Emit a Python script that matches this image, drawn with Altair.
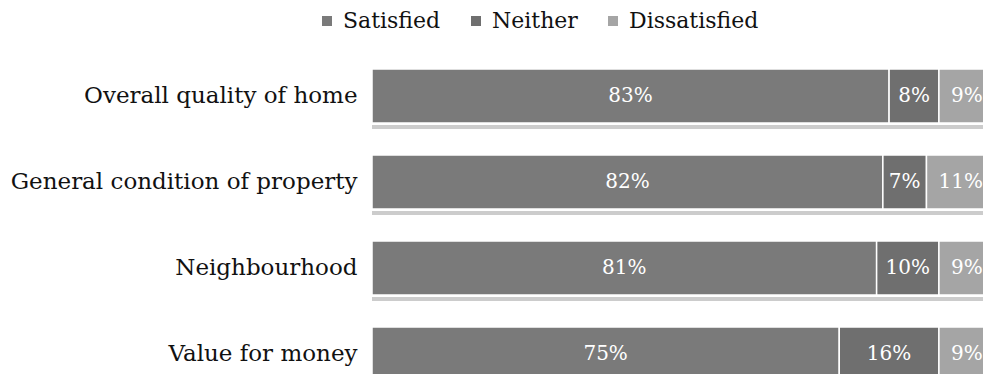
import altair as alt
import pandas as pd

categories = ["Overall quality of home", "General condition of property", "Neighbourhood", "Value for money"]
series = ["Satisfied", "Neither", "Dissatisfied"]
satisfied = [83, 82, 81, 75]
neither = [8, 7, 10, 16]
dissatisfied = [9, 11, 9, 9]
colors = ["#7a7a7a", "#6f6f6f", "#a5a5a5"]

rows = []
for i, c in enumerate(categories):
    start = 0
    for k, (s, vals) in enumerate(zip(series, [satisfied, neither, dissatisfied])):
        v = vals[i]
        rows.append({"cat": c, "series": s, "order": k, "value": v,
                     "start": start, "end": start + v, "mid": start + v / 2,
                     "label": f"{v}%"})
        start += v
df = pd.DataFrame(rows)

FONT = "DejaVu Serif"

y_scale = alt.Scale(domain=categories, range=[0, 344], paddingInner=0.372, paddingOuter=0.186)
y_enc = alt.Y("cat:N", sort=categories, title=None, scale=y_scale,
              axis=alt.Axis(domain=False, ticks=False, labelFontSize=23, labelFont=FONT,
                            labelColor="#111111", labelPadding=15, labelLimit=400))
x_scale = alt.Scale(domain=[0, 100], range=[0, 623], nice=False)

shadow = alt.Chart(df).transform_filter(alt.datum.order == 0).mark_rule(
    color="#cccccc", strokeWidth=4, yOffset=4, clip=True).encode(
    y=alt.Y("cat:N", sort=categories, scale=y_scale, bandPosition=1),
    x=alt.X("start:Q", scale=x_scale, axis=None),
    x2=alt.value(640),
)

bars = alt.Chart(df).mark_bar(stroke="white", strokeWidth=1.5, clip=True).encode(
    y=y_enc,
    x=alt.X("start:Q", scale=x_scale, axis=None),
    x2="end:Q",
    color=alt.Color("series:N", sort=series,
                    scale=alt.Scale(domain=series, range=colors),
                    legend=alt.Legend(title=None, orient="none", direction="horizontal",
                                      legendX=-56, legendY=-43, symbolType="square",
                                      symbolSize=100, symbolStrokeWidth=0,
                                      labelFontSize=22, labelFont=FONT, labelColor="#111111",
                                      columnPadding=24, labelOffset=5)),
)

texts = alt.Chart(df).mark_text(color="white", fontSize=20, font=FONT).encode(
    y=alt.Y("cat:N", sort=categories, scale=y_scale),
    x=alt.X("mid:Q", scale=x_scale),
    text="label:N",
)

chart = alt.layer(shadow, bars, texts).properties(
    width=611, height=321,
    autosize=alt.AutoSizeParams(type="none"),
    padding={"left": 364, "top": 45, "right": 0, "bottom": 0},
).configure_view(stroke=None)

chart.save("out.html", embed_options={"renderer": "svg", "actions": False})
